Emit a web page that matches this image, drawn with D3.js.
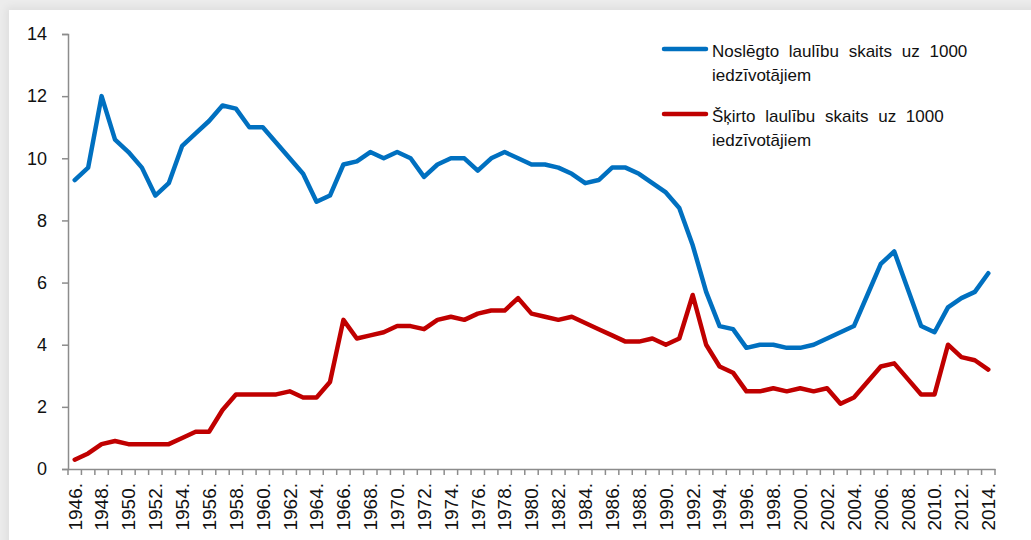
<!DOCTYPE html>
<head>
  <meta charset="utf-8">
  <script src="https://d3js.org/d3.v7.min.js"></script>
  <style>
    html, body {
      margin: 0;
      padding: 0;
      background: #ececec;
      overflow: hidden;
    }
    .frame {
      position: absolute;
      left: 9px;
      top: 10px;
      width: 1100px;
      height: 600px;
      background: #fff;
      box-shadow: -3px -3px 8px rgba(0,0,0,0.06);
    }
    svg {
      position: absolute;
      left: 0;
      top: 0;
      width: 1031px;
      height: 540px;
      font-family: "Liberation Sans", Arial, sans-serif;
    }
  </style>
</head>

<body>
  <div class="frame"></div>
  <svg></svg>

  <script>
    const width = 1031;
    const height = 540;

    const years = d3.range(1946, 2015);

    // marriages per 1000 inhabitants
    const marriages = [
      9.3, 9.7, 12.0, 10.6, 10.2, 9.7, 8.8, 9.2, 10.4, 10.8,
      11.2, 11.7, 11.6, 11.0, 11.0, 10.5, 10.0, 9.5, 8.6, 8.8,
      9.8, 9.9, 10.2, 10.0, 10.2, 10.0, 9.4, 9.8, 10.0, 10.0,
      9.6, 10.0, 10.2, 10.0, 9.8, 9.8, 9.7, 9.5, 9.2, 9.3,
      9.7, 9.7, 9.5, 9.2, 8.9, 8.4, 7.2, 5.7, 4.6, 4.5,
      3.9, 4.0, 4.0, 3.9, 3.9, 4.0, 4.2, 4.4, 4.6, 5.6,
      6.6, 7.0, 5.8, 4.6, 4.4, 5.2, 5.5, 5.7, 6.3
    ];

    // divorces per 1000 inhabitants
    const divorces = [
      0.3, 0.5, 0.8, 0.9, 0.8, 0.8, 0.8, 0.8, 1.0, 1.2,
      1.2, 1.9, 2.4, 2.4, 2.4, 2.4, 2.5, 2.3, 2.3, 2.8,
      4.8, 4.2, 4.3, 4.4, 4.6, 4.6, 4.5, 4.8, 4.9, 4.8,
      5.0, 5.1, 5.1, 5.5, 5.0, 4.9, 4.8, 4.9, 4.7, 4.5,
      4.3, 4.1, 4.1, 4.2, 4.0, 4.2, 5.6, 4.0, 3.3, 3.1,
      2.5, 2.5, 2.6, 2.5, 2.6, 2.5, 2.6, 2.1, 2.3, 2.8,
      3.3, 3.4, 2.9, 2.4, 2.4, 4.0, 3.6, 3.5, 3.2
    ];

    const yTicks = [0, 2, 4, 6, 8, 10, 12, 14];

    const seriesNames = [
      ['Noslēgto laulību skaits uz 1000', 'iedzīvotājiem'],
      ['Šķirto laulību skaits uz 1000', 'iedzīvotājiem']
    ];
    const seriesColors = ['#0070c0', '#c00000'];

    const svg = d3.select('svg');
    const axisColor = '#8c8c8c';

    const x = d3.scaleBand().domain(years).range([68, 995]);
    const y = d3.scaleLinear().domain([0, 14]).range([469, 34]);
    const cx = d => x(d) + x.bandwidth() / 2;

    /*****************************************************
    ** axes
    ******************************************************/

    const yAxis = svg.append('g')
      .attr('transform', 'translate(68,0)')
      .call(d3.axisLeft(y).tickValues(yTicks).tickSize(6).tickPadding(15));

    yAxis.selectAll('text')
      .attr('font-size', 18)
      .attr('font-family', '"Liberation Sans", Arial, sans-serif')
      .attr('fill', '#111');

    const xAxis = svg.append('g')
      .attr('transform', 'translate(0,469)')
      .call(d3.axisBottom(x)
        .tickSize(0)
        .tickValues(years.filter(d => d % 2 === 0))
        .tickFormat(d => d + '.'));

    xAxis.selectAll('text')
      .attr('font-size', 19)
      .attr('font-family', '"Liberation Sans", Arial, sans-serif')
      .attr('fill', '#111')
      .attr('text-anchor', 'end')
      .attr('transform', 'rotate(-90)')
      .attr('x', -14)
      .attr('y', 0)
      .attr('dy', '0.36em');

    // ticks sit on the category boundaries
    xAxis.selectAll('.bound')
      .data(years.concat([null]))
      .enter().append('line')
      .attr('class', 'bound')
      .attr('x1', d => d === null ? x.range()[1] : x(d))
      .attr('x2', d => d === null ? x.range()[1] : x(d))
      .attr('y1', 0)
      .attr('y2', 6);

    svg.selectAll('.domain, .tick line, .bound')
      .attr('stroke', axisColor)
      .attr('stroke-width', 1.5);

    /*****************************************************
    ** lines
    ******************************************************/

    const line = d3.line()
      .x((d, i) => cx(years[i]))
      .y(d => y(d));

    svg.selectAll('.series')
      .data([marriages, divorces])
      .enter().append('path')
      .attr('class', 'series')
      .attr('d', d => line(d))
      .attr('fill', 'none')
      .attr('stroke', (d, i) => seriesColors[i])
      .attr('stroke-width', 4.5)
      .attr('stroke-linejoin', 'round')
      .attr('stroke-linecap', 'round');

    /*****************************************************
    ** legend
    ******************************************************/

    const legend = svg.selectAll('.legend')
      .data(seriesNames)
      .enter().append('g')
      .attr('class', 'legend')
      .attr('transform', (d, i) => `translate(664,${49 + i * 65})`);

    legend.append('line')
      .attr('x1', 0)
      .attr('x2', 42)
      .attr('stroke', (d, i) => seriesColors[i])
      .attr('stroke-width', 4.5)
      .attr('stroke-linecap', 'round');

    legend.append('text')
      .attr('x', 48)
      .attr('y', 8)
      .attr('font-size', 17)
      .attr('fill', '#111')
      .attr('word-spacing', 5)
      .selectAll('tspan')
      .data(d => d)
      .enter().append('tspan')
      .attr('x', 48)
      .attr('dy', (d, i) => i === 0 ? 0 : 24)
      .text(d => d);
  </script>
</body>
